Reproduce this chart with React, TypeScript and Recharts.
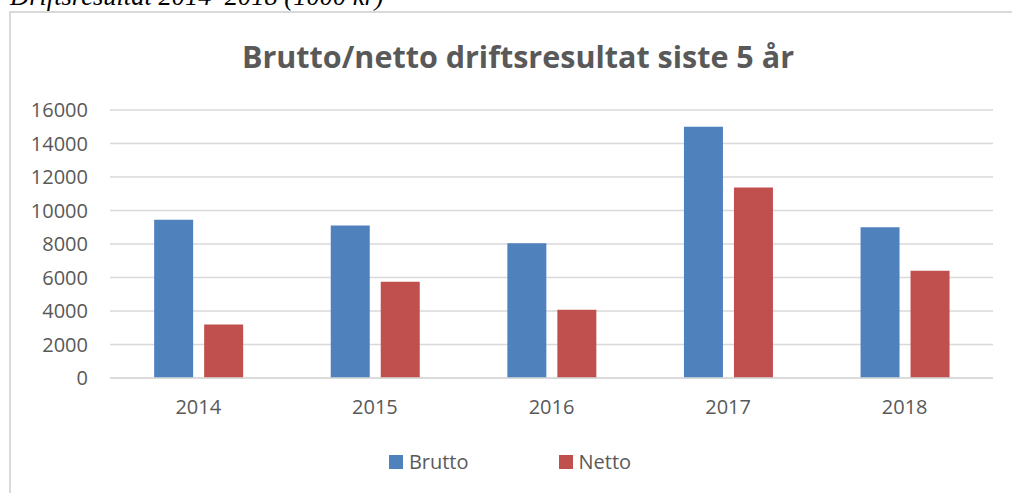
import React from 'react';
import { BarChart, Bar, XAxis, YAxis, CartesianGrid, Legend } from 'recharts';

const years = ['2014', '2015', '2016', '2017', '2018'];
const brutto = [9450, 9100, 8050, 15000, 9000];
const netto = [3200, 5750, 4080, 11370, 6400];
const yTicks = [0, 2000, 4000, 6000, 8000, 10000, 12000, 14000, 16000];

const seriesNames = { brutto: 'Brutto', netto: 'Netto' };
const colors = { brutto: '#4f81bd', netto: '#c0504d' };

const data = years.map((y, i) => ({ year: y, brutto: brutto[i], netto: netto[i] }));

const FONT = '"Open Sans", "Noto Sans", sans-serif';
const TEXT = '#595959';

function LegendContent() {
  const items = [
    { key: 'brutto', name: seriesNames.brutto, color: colors.brutto },
    { key: 'netto', name: seriesNames.netto, color: colors.netto },
  ];
  return (
    <div style={{ display: 'flex', justifyContent: 'center', alignItems: 'center', fontFamily: FONT, fontSize: 20, color: TEXT }}>
      {items.map((it, i) => (
        <div key={it.key} style={{ display: 'flex', alignItems: 'center', marginLeft: i === 0 ? 0 : 90 }}>
          <span style={{ display: 'inline-block', width: 14, height: 14, background: it.color, marginRight: 6 }} />
          <span>{it.name}</span>
        </div>
      ))}
    </div>
  );
}

export default function App() {
  return (
    <div style={{ position: 'absolute', left: 0, top: 0, width: 1012, height: 493, overflow: 'hidden', background: '#fff' }}>
      <div
        style={{
          position: 'absolute',
          left: 10,
          top: -19,
          fontFamily: '"Liberation Serif", "Times New Roman", serif',
          fontStyle: 'italic',
          fontSize: 26.5,
          lineHeight: '30px',
          color: '#000',
          whiteSpace: 'nowrap',
        }}
      >
        Driftsresultat 2014–2018 (1000 kr)
      </div>
      <div
        style={{
          position: 'absolute',
          left: 9,
          top: 11,
          width: 1010,
          height: 520,
          border: '2px solid #d9d9d9',
          boxSizing: 'border-box',
        }}
      />
      <div
        style={{
          position: 'absolute',
          left: 10,
          top: 35,
          width: 1016,
          textAlign: 'center',
          fontFamily: FONT,
          fontWeight: 700,
          fontSize: 30.5,
          lineHeight: '42px',
          color: TEXT,
          whiteSpace: 'nowrap',
        }}
      >
        Brutto/netto driftsresultat siste 5 år
      </div>
      <div style={{ position: 'absolute', left: 0, top: 0 }}>
        <BarChart
          width={1012}
          height={493}
          data={data}
          margin={{ top: 110, right: 19, left: 0, bottom: 0 }}
          barCategoryGap="25%"
          barGap={11}
        >
          <CartesianGrid vertical={false} stroke="#d9d9d9" strokeWidth={1.3} />
          <XAxis
            dataKey="year"
            height={115}
            axisLine={{ stroke: '#d9d9d9', strokeWidth: 1.3 }}
            tickLine={false}
            tickMargin={16}
            tick={{ fill: TEXT, fontSize: 20, fontFamily: FONT }}
          />
          <YAxis
            width={110}
            domain={[0, 16000]}
            ticks={yTicks}
            axisLine={false}
            tickLine={false}
            tickMargin={16}
            tick={{ fill: TEXT, fontSize: 20, fontFamily: FONT }}
          />
          <Legend
            verticalAlign="middle"
            align="center"
            layout="horizontal"
            content={LegendContent}
            wrapperStyle={{ top: 448, left: 10, width: 1000 }}
          />
          <Bar dataKey="brutto" name={seriesNames.brutto} fill={colors.brutto} isAnimationActive={false} />
          <Bar dataKey="netto" name={seriesNames.netto} fill={colors.netto} isAnimationActive={false} />
        </BarChart>
      </div>
    </div>
  );
}
